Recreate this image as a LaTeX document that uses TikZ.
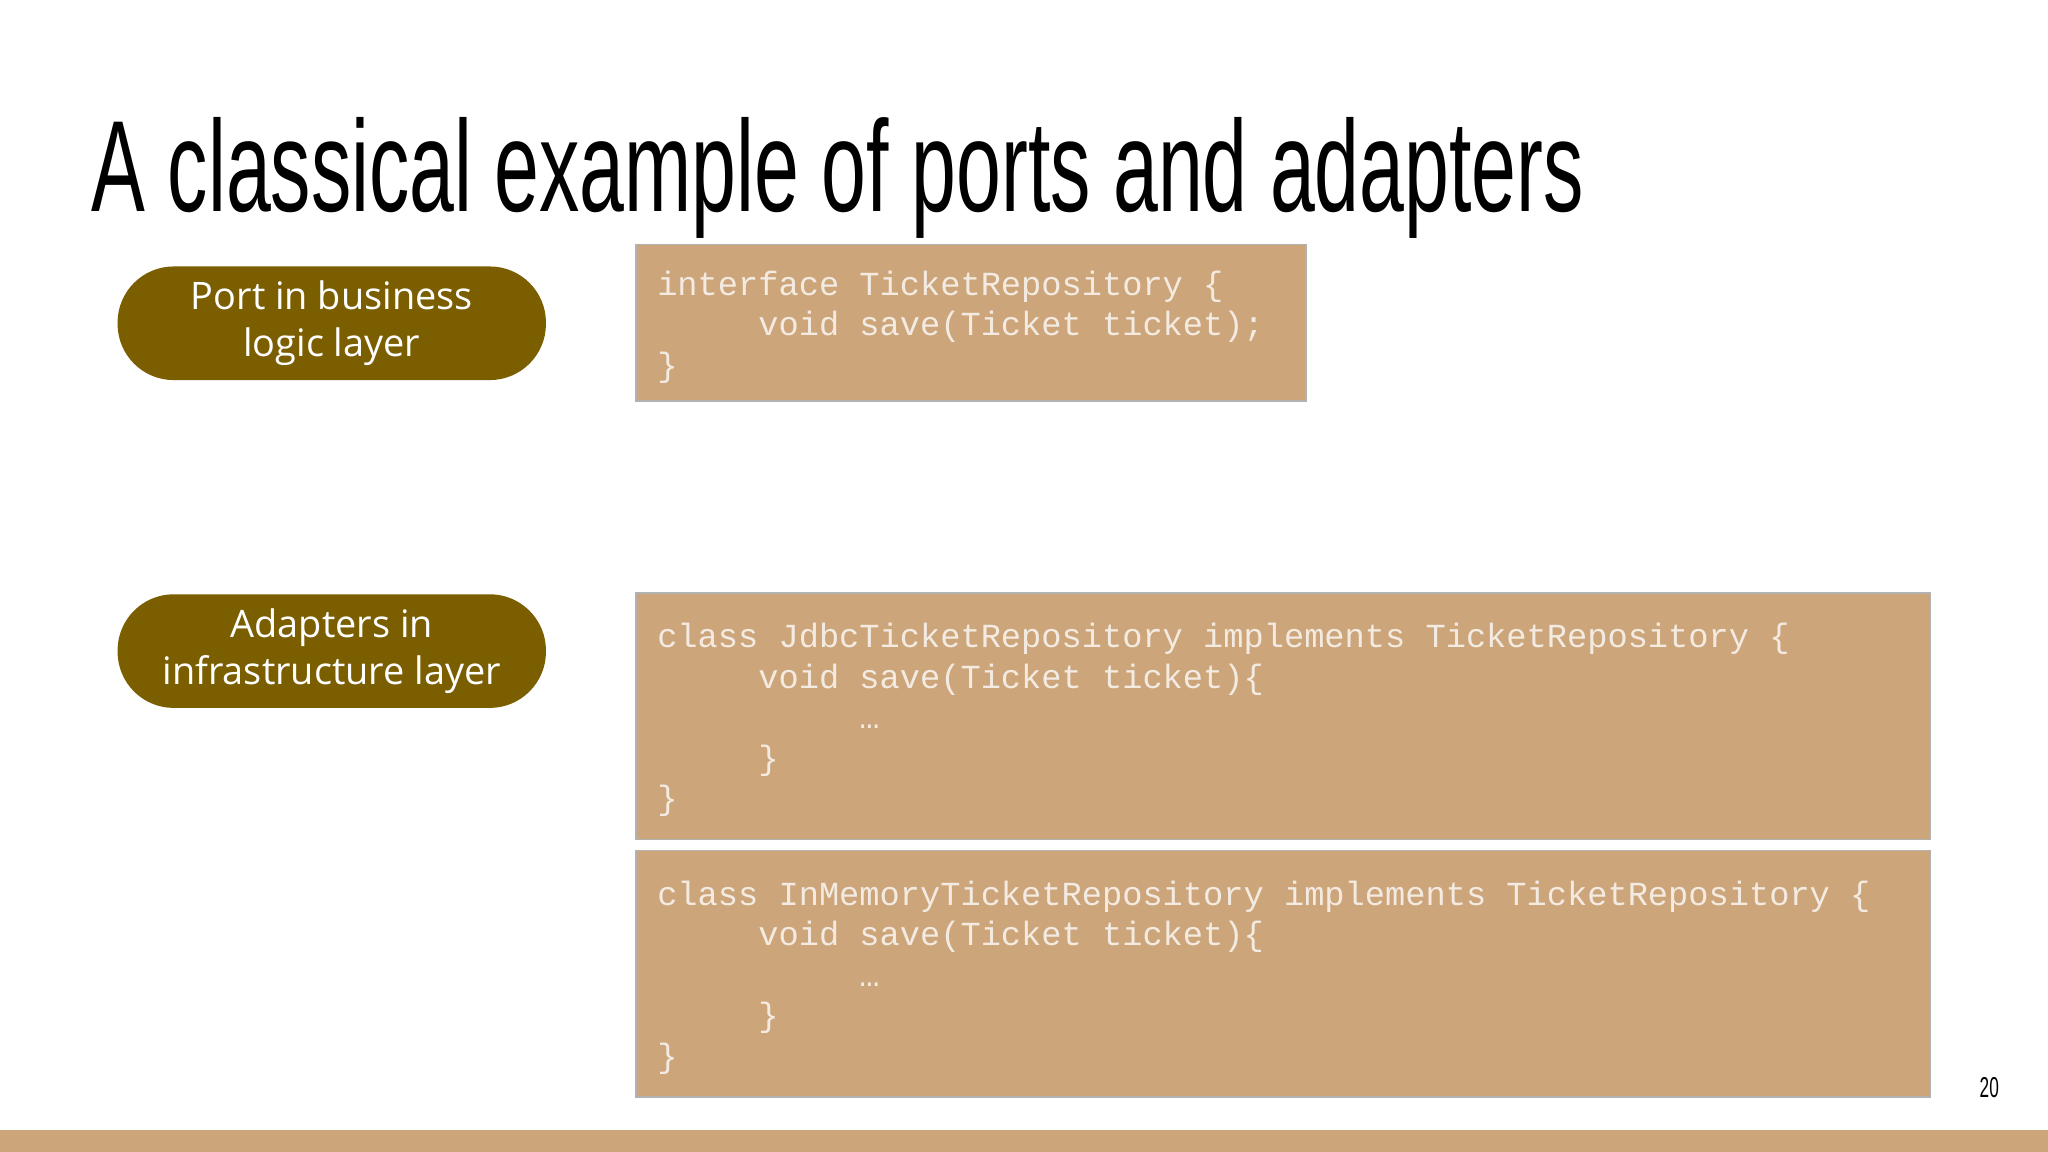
\documentclass[tikz,border=0pt]{standalone}
\usepackage{fontspec}
\setmainfont{Open Sans}
\setmonofont{Liberation Mono}
\newfontfamily\titlefont{Liberation Sans}
\definecolor{pill}{HTML}{7B5E00}
\definecolor{code}{HTML}{CDA57A}
\definecolor{codetext}{HTML}{F3EBE2}
\begin{document}
\begin{tikzpicture}[x=1pt,y=-1pt,
  pillbox/.style={fill=pill,rounded corners=43pt,text=white,align=center,font=\fontsize{29}{35}\selectfont},
  codebox/.style={fill=code,draw=gray!60,line width=1pt},
  codeline/.style={anchor=base west,inner sep=0,text=codetext,font=\ttfamily\fontsize{25.8}{31}\selectfont}]
\useasboundingbox[fill=white] (0,0) rectangle (1568,882);
\fill[code] (0,865) rectangle (1568,882);
\node[anchor=base west,inner sep=0] (title) at (70,162) {\titlefont\resizebox{1142pt}{72pt}{A classical example of ports and adapters}};
\node (pg) [anchor=base,inner sep=0] at (1523,840) {\titlefont\scalebox{0.6}[1]{\fontsize{22}{22}\selectfont 20}};
% pills
\fill[pill,rounded corners=43pt] (90,204) rectangle (418,291);
\node (p1) at (254,247.5) [text=white,align=center,font=\fontsize{29}{36}\selectfont] {Port in business\\logic layer};
\fill[pill,rounded corners=43pt] (90,455) rectangle (418,542);
\node (p2) at (254,498.5) [text=white,align=center,font=\fontsize{29}{36}\selectfont] {Adapters in\\infrastructure layer};
% boxes
\draw[codebox] (487,187) rectangle (1000,307);
\draw[codebox] (487,454) rectangle (1478,643);
\draw[codebox] (487,651) rectangle (1478,840);
\node[codeline] (a1) at (503,226) {interface TicketRepository \{};
\node[codeline] (a2) at (503,257) {\ \ \ \ \ void save(Ticket ticket);};
\node[codeline] (a3) at (503,288) {\}};
\node[codeline] (b1) at (503,496) {class JdbcTicketRepository implements TicketRepository \{};
\node[codeline] (b2) at (503,527) {\ \ \ \ \ void save(Ticket ticket)\{};
\node[codeline] (b3) at (503,558) {\ \ \ \ \ \ \ \ \ \ …};
\node[codeline] (b4) at (503,589) {\ \ \ \ \ \}};
\node[codeline] (b5) at (503,620) {\}};
\node[codeline] (c1) at (503,693) {class InMemoryTicketRepository implements TicketRepository \{};
\node[codeline] (c2) at (503,724) {\ \ \ \ \ void save(Ticket ticket)\{};
\node[codeline] (c3) at (503,755) {\ \ \ \ \ \ \ \ \ \ …};
\node[codeline] (c4) at (503,786) {\ \ \ \ \ \}};
\node[codeline] (c5) at (503,817) {\}};
\end{tikzpicture}
\end{document}
